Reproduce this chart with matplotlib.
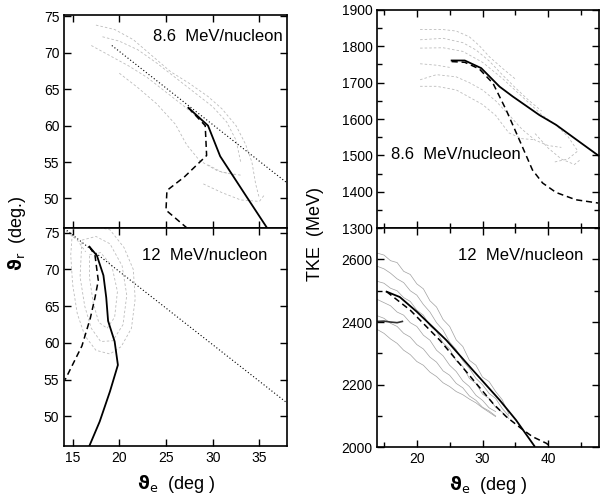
import numpy as np
import matplotlib.pyplot as plt
from matplotlib.ticker import MultipleLocator

plt.rcParams['font.family'] = ['Liberation Sans', 'DejaVu Sans']
plt.rcParams['mathtext.fontset'] = 'dejavusans'

# ---- theta_r vs theta_e, 8.6 MeV/nucleon ----
a86_sol_x = [27.4, 29.5, 30.8, 33.65, 35.8]
a86_sol_y = [62.45, 60.0, 55.8, 50.2, 46.0]
a86_das_x = [27.4, 29.2, 29.35, 27.0, 25.1, 25.0, 27.2]
a86_das_y = [62.45, 60.0, 55.9, 53.0, 51.1, 48.4, 46.0]
a86_dot_x = [19.2, 38.0]
a86_dot_y = [71.0, 52.1]
a86_cont = [
    [(17.5, 73.8), (19.5, 73.2), (21.5, 71.8), (23.5, 69.6), (25.5, 67.4), (27.5, 65.8),
     (29.5, 64.0), (31.0, 62.3), (32.5, 60.0), (33.5, 57.5), (34.2, 55.0), (34.6, 52.0), (35.0, 50.0)],
    [(18.2, 72.2), (20.0, 71.6), (22.0, 70.4), (24.0, 68.6), (26.0, 66.6), (28.0, 64.6),
     (30.0, 62.6), (31.5, 60.5), (32.5, 58.0), (33.0, 55.0)],
    [(17.0, 71.0), (19.0, 69.6), (21.0, 68.2), (23.0, 66.6), (25.0, 64.6), (27.0, 62.6), (28.5, 61.0)],
    [(20.0, 67.2), (22.0, 65.2), (24.0, 63.0), (26.0, 60.2), (27.2, 57.4), (28.6, 55.2),
     (30.5, 53.8), (32.5, 53.2)],
    [(29.0, 52.0), (31.0, 50.8), (33.0, 49.8), (35.0, 49.6), (35.6, 50.6)],
    [(29.5, 54.6), (31.0, 53.6), (33.0, 53.2)],
]

# ---- theta_r vs theta_e, 12 MeV/nucleon ----
a12_sol_x = [16.8, 17.6, 18.3, 18.6, 18.8, 19.5, 19.85, 19.0, 17.9, 16.7]
a12_sol_y = [73.1, 71.9, 69.2, 66.2, 63.0, 60.2, 57.0, 53.4, 49.3, 45.7]
a12_das_x = [16.8, 17.4, 17.75, 17.4, 16.9, 16.0, 14.2]
a12_das_y = [73.1, 71.9, 68.5, 66.2, 63.4, 59.6, 55.0]
a12_dot_x = [14.1, 38.0]
a12_dot_y = [75.6, 51.8]
a12_cont = [
    [(15.0, 75.5), (17.0, 76.0), (19.0, 75.4), (20.5, 73.0), (21.5, 70.0), (21.7, 66.0),
     (21.3, 62.0), (20.2, 59.5), (19.0, 58.5), (17.5, 59.0), (16.3, 61.0), (15.5, 64.0),
     (15.0, 68.0), (14.8, 72.0), (15.0, 75.5)],
    [(16.0, 74.0), (17.5, 74.5), (19.0, 73.5), (20.3, 70.5), (20.8, 66.5), (20.4, 62.5),
     (19.3, 60.3), (18.0, 60.2), (17.0, 62.0), (16.3, 65.0), (15.8, 69.0), (16.0, 74.0)],
    [(16.8, 72.0), (18.0, 72.3), (19.2, 70.5), (19.8, 67.0), (19.5, 63.5), (18.7, 62.0),
     (17.8, 62.8), (17.2, 65.5), (16.8, 69.0), (16.8, 72.0)],
    [(14.3, 75.2), (15.5, 74.0), (16.4, 72.4)],
]

# ---- TKE vs theta_e, 8.6 MeV/nucleon ----
t86_sol_x = [25.3, 27.3, 29.8, 32.6, 34.6, 38.65, 41.2, 44.7, 47.6]
t86_sol_y = [1761, 1761, 1740, 1689, 1662, 1611, 1584, 1538, 1500]
t86_das_x = [25.3, 27.3, 29.5, 31.6, 33.6, 35.6, 37.6, 39.15, 41.2, 44.2, 47.6]
t86_das_y = [1758, 1756, 1738, 1698, 1625, 1543, 1460, 1424, 1398, 1378, 1369]
t86_cont = [
    [(20.5, 1846), (24.0, 1846), (26.0, 1842), (28.0, 1826), (29.5, 1802), (31.0, 1772),
     (33.0, 1740), (35.0, 1710)],
    [(20.5, 1818), (24.0, 1822), (27.0, 1810), (29.0, 1790), (31.0, 1760), (33.0, 1722),
     (35.0, 1686), (37.0, 1652), (39.0, 1622)],
    [(20.5, 1795), (24.0, 1796), (27.0, 1786), (30.0, 1756), (33.0, 1712), (36.0, 1662),
     (39.0, 1612), (41.0, 1586), (43.0, 1552), (44.5, 1512), (43.0, 1490), (41.0, 1482)],
    [(20.5, 1752), (23.0, 1748), (25.0, 1742)],
    [(20.5, 1708), (23.0, 1722), (26.0, 1716), (28.0, 1700), (30.0, 1680), (32.0, 1650),
     (34.0, 1612), (36.0, 1572), (38.0, 1542), (40.0, 1527), (42.0, 1522)],
    [(20.5, 1690), (23.0, 1690), (26.0, 1680), (28.0, 1660), (30.0, 1640), (32.0, 1610),
     (34.0, 1562), (36.0, 1546), (38.0, 1543)],
    [(38.0, 1560), (40.0, 1520), (42.0, 1490), (44.0, 1475), (45.0, 1490)],
]

# ---- TKE vs theta_e, 12 MeV/nucleon ----
t12_sol_x = [15.4, 17.4, 20.0, 24.5, 28.5, 32.6, 35.1, 37.9]
t12_sol_y = [2497, 2480, 2433, 2342, 2247, 2151, 2087, 2004]
t12_das_x = [15.4, 19.0, 23.5, 27.55, 31.6, 33.6, 35.9, 37.6, 39.7, 40.4]
t12_das_y = [2497, 2438, 2342, 2241, 2140, 2098, 2060, 2034, 2013, 2002]
t12_cont_x = list(range(14, 35))
t12_cont_y = [
    [2620, 2614, 2596, 2590, 2562, 2552, 2522, 2506, 2468, 2448, 2408, 2386, 2343, 2322,
     2278, 2262, 2224, 2210, 2178, 2152, 2106],
    [2578, 2570, 2556, 2538, 2526, 2500, 2486, 2456, 2432, 2398, 2374, 2336, 2312, 2276,
     2252, 2220, 2200, 2172, 2156, 2124, 2100],
    [2530, 2524, 2508, 2500, 2478, 2466, 2438, 2422, 2388, 2370, 2333, 2314, 2276, 2258,
     2220, 2204, 2170, 2156, 2128, 2112, 2092],
    [2472, 2462, 2452, 2432, 2422, 2398, 2386, 2358, 2342, 2310, 2292, 2262, 2242, 2212,
     2194, 2166, 2150, 2126, 2114],
    [2420, 2412, 2396, 2386, 2364, 2352, 2328, 2314, 2288, 2272, 2244, 2230, 2204, 2190,
     2164, 2150, 2128, 2116, 2100],
    [2376, 2364, 2346, 2332, 2310, 2296, 2274, 2262, 2240, 2226, 2206, 2194, 2178, 2168,
     2154, 2142, 2126, 2112, 2098],
]
t12_edge_x = [14.0, 15.0, 16.0, 17.0, 17.8]
t12_edge_y = [2402, 2403, 2400, 2398, 2402]


def draw_contours(ax, curves, color='#bcbcbc', ls=(0, (3, 2.5)), lw=0.6):
    for c in curves:
        c = np.array(c)
        ax.plot(c[:, 0], c[:, 1], color=color, lw=lw, ls=ls)


def style(ax):
    ax.tick_params(which='both', direction='in', top=True, right=True, labelsize=10)
    ax.tick_params(which='major', length=5, width=1)
    ax.tick_params(which='minor', length=3.5, width=1)
    for s in ax.spines.values():
        s.set_linewidth(1.2)


fig = plt.figure(figsize=(6.0, 4.97), dpi=100)

# left column
ax1 = fig.add_axes([0.107, 0.542, 0.372, 0.428])
ax2 = fig.add_axes([0.107, 0.103, 0.372, 0.439], sharex=ax1)

draw_contours(ax1, a86_cont)
ax1.plot(a86_dot_x, a86_dot_y, color='k', lw=0.8, ls=(0, (1, 2)))
ax1.plot(a86_das_x, a86_das_y, color='k', lw=1.1, ls=(0, (4, 2.5)))
ax1.plot(a86_sol_x, a86_sol_y, color='k', lw=1.3)
ax1.set_ylim(46, 75.2)
ax1.text(0.98, 0.9, '8.6  MeV/nucleon', transform=ax1.transAxes,
         ha='right', va='center', fontsize=12)

draw_contours(ax2, a12_cont)
ax2.plot(a12_dot_x, a12_dot_y, color='k', lw=0.8, ls=(0, (1, 2)))
ax2.plot(a12_das_x, a12_das_y, color='k', lw=1.1, ls=(0, (4, 2.5)))
ax2.plot(a12_sol_x, a12_sol_y, color='k', lw=1.3)
ax2.set_ylim(46, 75.7)
ax2.set_xlim(14.1, 38)
ax2.text(0.91, 0.87, '12  MeV/nucleon', transform=ax2.transAxes,
         ha='right', va='center', fontsize=12)

for ax in (ax1, ax2):
    ax.xaxis.set_major_locator(MultipleLocator(5))
    ax.yaxis.set_major_locator(MultipleLocator(5))
    style(ax)
ax1.tick_params(labelbottom=False)
ax1.set_yticks([50, 55, 60, 65, 70, 75])
ax2.set_yticks([50, 55, 60, 65, 70, 75])
ax2.set_xlabel(r'$\mathbf{\vartheta}_{\mathrm{e}}$  (deg )', fontsize=13, labelpad=6)
fig.text(0.028, 0.53, r'$\mathbf{\vartheta}_{\mathrm{r}}$  (deg.)', rotation=90,
         ha='center', va='center', fontsize=13)

# right column
ax3 = fig.add_axes([0.629, 0.541, 0.369, 0.439])
ax4 = fig.add_axes([0.629, 0.100, 0.369, 0.441], sharex=ax3)

draw_contours(ax3, t86_cont)
ax3.plot(t86_das_x, t86_das_y, color='k', lw=1.1, ls=(0, (4, 2.5)))
ax3.plot(t86_sol_x, t86_sol_y, color='k', lw=1.3)
ax3.set_ylim(1300, 1900)
ax3.text(0.06, 0.336, '8.6  MeV/nucleon', transform=ax3.transAxes,
         ha='left', va='center', fontsize=12)

for ys in t12_cont_y:
    ax4.plot(t12_cont_x[:len(ys)], ys, color='#a0a0a0', lw=0.5)
ax4.plot(t12_edge_x, t12_edge_y, color='#333333', lw=1.2)
ax4.plot(t12_das_x, t12_das_y, color='k', lw=1.1, ls=(0, (4, 2.5)))
ax4.plot(t12_sol_x, t12_sol_y, color='k', lw=1.3)
ax4.set_ylim(2000, 2700)
ax4.set_xlim(14, 47.7)
ax4.text(0.93, 0.874, '12  MeV/nucleon', transform=ax4.transAxes,
         ha='right', va='center', fontsize=12)

for ax in (ax3, ax4):
    ax.xaxis.set_major_locator(MultipleLocator(10))
    ax.xaxis.set_minor_locator(MultipleLocator(5))
    style(ax)
ax3.yaxis.set_major_locator(MultipleLocator(100))
ax3.yaxis.set_minor_locator(MultipleLocator(50))
ax4.yaxis.set_major_locator(MultipleLocator(200))
ax4.yaxis.set_minor_locator(MultipleLocator(100))
ax4.set_yticks([2000, 2200, 2400, 2600])
ax3.tick_params(labelbottom=False)
ax4.set_xlabel(r'$\mathbf{\vartheta}_{\mathrm{e}}$  (deg )', fontsize=13, labelpad=6)
fig.text(0.525, 0.53, 'TKE  (MeV)', rotation=90, ha='center', va='center', fontsize=13)

fig.savefig('out.png', dpi=100)
